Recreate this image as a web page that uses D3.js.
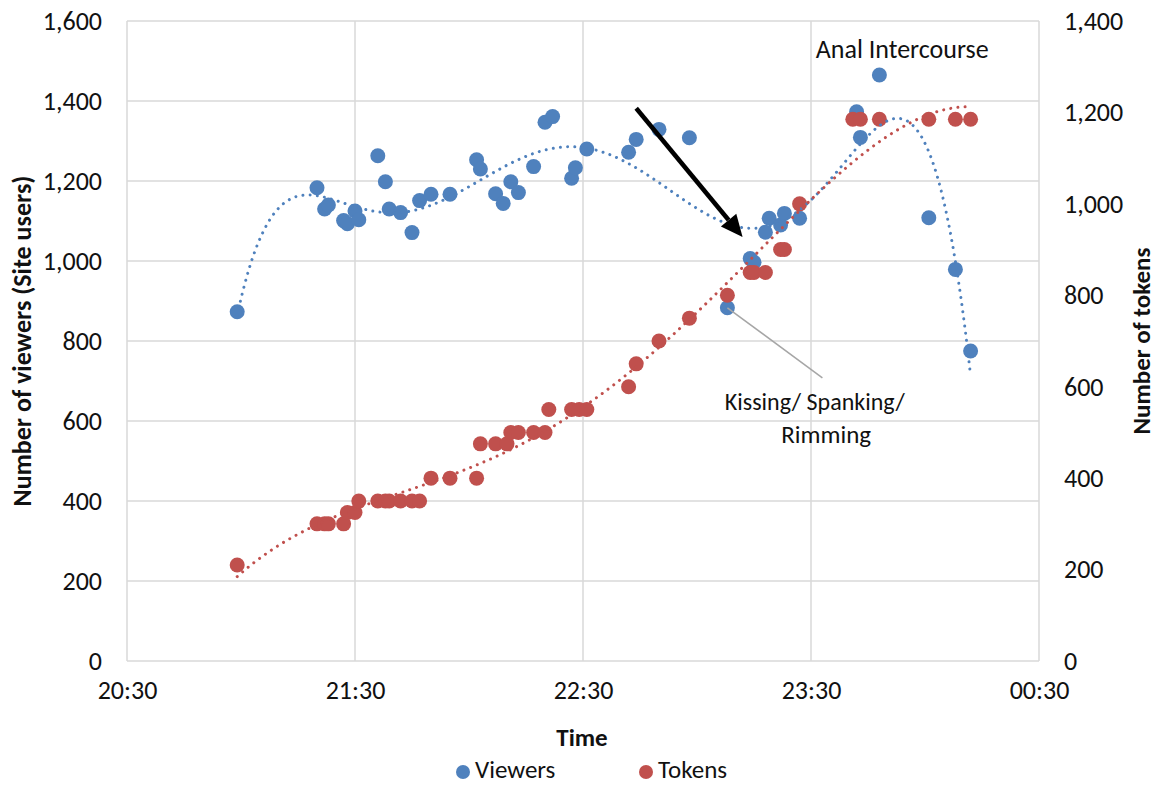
<!DOCTYPE html>
<html>
<head>
<meta charset="utf-8">
<script src="https://cdn.jsdelivr.net/npm/d3@7"></script>
<style>
  html, body { margin: 0; padding: 0; background: #fff; }
  svg { display: block; }
  text { font-family: Carlito, Calibri, Lato, "Open Sans", sans-serif; fill: #111; }
</style>
</head>
<body>
<script>
// ---------------- DATA ----------------
const xTickLabels = ["20:30", "21:30", "22:30", "23:30", "00:30"];
const leftTicks = [0, 200, 400, 600, 800, 1000, 1200, 1400, 1600];
const rightTicks = [0, 200, 400, 600, 800, 1000, 1200, 1400];

const viewerTimes = ["20:59","21:20","21:22","21:23","21:27","21:28","21:30","21:31","21:36","21:38",
  "21:39","21:42","21:45","21:47","21:50","21:55","22:02","22:03","22:07","22:09",
  "22:11","22:13","22:17","22:20","22:22","22:27","22:28","22:31","22:42","22:44",
  "22:50","22:58","23:08","23:14","23:15","23:18","23:19","23:22","23:23","23:27",
  "23:42","23:43","23:48","00:01","00:08","00:12"];
const viewerValues = [873,1183,1130,1140,1101,1093,1125,1103,1263,1198,
  1130,1121,1071,1151,1167,1167,1253,1230,1168,1144,
  1198,1171,1236,1347,1361,1207,1233,1280,1272,1304,
  1329,1308,883,1006,997,1072,1107,1090,1119,1107,
  1373,1309,1465,1108,979,775];

const tokenTimes = ["20:59","21:20","21:22","21:23","21:27","21:28","21:30","21:31","21:36","21:38",
  "21:39","21:42","21:45","21:47","21:50","21:55","22:02","22:03","22:07","22:10",
  "22:11","22:13","22:17","22:20","22:21","22:27","22:29","22:31","22:42","22:44",
  "22:50","22:58","23:08","23:14","23:15","23:18","23:22","23:23","23:27","23:41",
  "23:43","23:48","00:01","00:08","00:12"];
const tokenValues = [210,300,300,300,300,325,325,350,350,350,
  350,350,350,350,400,400,400,475,475,475,
  500,500,500,500,550,550,550,550,600,650,
  700,750,800,850,850,850,900,900,1000,1185,
  1185,1185,1185,1185,1185];

const seriesNames = ["Viewers", "Tokens"];
const seriesColors = ["#4F81BD", "#C0504D"];

// annotations in data units: [time, value]
const arrowFrom = ["22:44", 1382];
const arrowTo = ["23:12", 1060];
const leaderFrom = ["23:08", 883];
const leaderTo = ["23:33", 708];
const labelAnal = {time: "23:54", value: 1507, text: "Anal Intercourse", size: 26};
const labelKiss1 = {time: "23:31", value: 628, text: "Kissing/ Spanking/", size: 24};
const labelKiss2 = {time: "23:34", value: 545, text: "Rimming", size: 25};

// ---------------- HELPERS ----------------
function parseT(s) {
  const [h, m] = s.split(":").map(Number);
  const day = h < 12 ? 2 : 1;
  return new Date(2000, 0, day, h, m);
}

function polyfit(xs, ys, order) {
  const n = order + 1;
  const A = Array.from({length: n}, () => new Array(n).fill(0));
  const b = new Array(n).fill(0);
  for (let k = 0; k < xs.length; k++) {
    const p = [];
    for (let i = 0; i < n; i++) p.push(Math.pow(xs[k], i));
    for (let i = 0; i < n; i++) {
      b[i] += p[i] * ys[k];
      for (let j = 0; j < n; j++) A[i][j] += p[i] * p[j];
    }
  }
  for (let c = 0; c < n; c++) {
    let piv = c;
    for (let r = c + 1; r < n; r++) if (Math.abs(A[r][c]) > Math.abs(A[piv][c])) piv = r;
    [A[c], A[piv]] = [A[piv], A[c]]; [b[c], b[piv]] = [b[piv], b[c]];
    for (let r = c + 1; r < n; r++) {
      const f = A[r][c] / A[c][c];
      for (let j = c; j < n; j++) A[r][j] -= f * A[c][j];
      b[r] -= f * b[c];
    }
  }
  const coef = new Array(n).fill(0);
  for (let i = n - 1; i >= 0; i--) {
    let s = b[i];
    for (let j = i + 1; j < n; j++) s -= A[i][j] * coef[j];
    coef[i] = s / A[i][i];
  }
  return coef;
}

function trend(times, values, order) {
  const ms = times.map(t => +t);
  const mean = d3.mean(ms), sd = d3.deviation(ms);
  const u = ms.map(v => (v - mean) / sd);
  const c = polyfit(u, values, order);
  const lo = d3.min(ms), hi = d3.max(ms);
  const pts = [];
  for (let i = 0; i <= 300; i++) {
    const m = lo + (hi - lo) * i / 300;
    const uu = (m - mean) / sd;
    let v = 0;
    for (let k = c.length - 1; k >= 0; k--) v = v * uu + c[k];
    pts.push([new Date(m), v]);
  }
  return pts;
}

// ---------------- CHART ----------------
const W = 1157, H = 785;
const L = 127, R = 1039, T = 21, B = 661;
const FONT = "Carlito, Calibri, Lato, 'Open Sans', sans-serif";

const svg = d3.select("body").append("svg").attr("width", W).attr("height", H);

const x = d3.scaleTime().domain([parseT("20:30"), parseT("00:30")]).range([L, R]);
const yL = d3.scaleLinear().domain([0, 1600]).range([B, T]);
const yR = d3.scaleLinear().domain([0, 1400]).range([B, T]);
const fmt = d3.format(",");

const grid = "#D9D9D9";
svg.append("g").selectAll("line").data(leftTicks).join("line")
  .attr("x1", L).attr("x2", R).attr("y1", d => yL(d)).attr("y2", d => yL(d))
  .attr("stroke", grid).attr("stroke-width", 1.5);
svg.append("g").selectAll("line").data(xTickLabels).join("line")
  .attr("x1", d => x(parseT(d))).attr("x2", d => x(parseT(d)))
  .attr("y1", T).attr("y2", B)
  .attr("stroke", grid).attr("stroke-width", 1.5);

const axL = svg.append("g").attr("transform", `translate(${L},0)`)
  .call(d3.axisLeft(yL).tickValues(leftTicks).tickFormat(fmt).tickSize(0).tickPadding(25));
const axR = svg.append("g").attr("transform", `translate(${R},0)`)
  .call(d3.axisRight(yR).tickValues(rightTicks).tickFormat(fmt).tickSize(0).tickPadding(25));
const axB = svg.append("g").attr("transform", `translate(0,${B})`)
  .call(d3.axisBottom(x).tickValues(xTickLabels.map(parseT)).tickFormat((d, i) => xTickLabels[i]).tickSize(0).tickPadding(20));
[axL, axR, axB].forEach(a => {
  a.select(".domain").remove();
  a.selectAll("text").attr("font-size", 26).attr("fill", "#111").attr("font-family", FONT);
});

const vData = viewerTimes.map((t, i) => [parseT(t), viewerValues[i]]);
const tData = tokenTimes.map((t, i) => [parseT(t), tokenValues[i]]);

svg.append("g").selectAll("circle").data(vData).join("circle")
  .attr("cx", d => x(d[0])).attr("cy", d => yL(d[1])).attr("r", 7.5)
  .attr("fill", seriesColors[0]);
svg.append("g").selectAll("circle").data(tData).join("circle")
  .attr("cx", d => x(d[0])).attr("cy", d => yR(d[1])).attr("r", 7.5)
  .attr("fill", seriesColors[1]);

const vTrend = trend(vData.map(d => d[0]), viewerValues, 6);
const tTrend = trend(tData.map(d => d[0]), tokenValues, 4);
svg.append("path").datum(vTrend)
  .attr("d", d3.line().x(d => x(d[0])).y(d => yL(d[1])))
  .attr("fill", "none").attr("stroke", seriesColors[0]).attr("stroke-width", 3)
  .attr("stroke-linecap", "round").attr("stroke-dasharray", "0.01 7.2");
svg.append("path").datum(tTrend)
  .attr("d", d3.line().x(d => x(d[0])).y(d => yR(d[1])))
  .attr("fill", "none").attr("stroke", seriesColors[1]).attr("stroke-width", 3)
  .attr("stroke-linecap", "round").attr("stroke-dasharray", "0.01 7.2");

svg.append("line")
  .attr("x1", x(parseT(leaderFrom[0]))).attr("y1", yL(leaderFrom[1]))
  .attr("x2", x(parseT(leaderTo[0]))).attr("y2", yL(leaderTo[1]))
  .attr("stroke", "#A6A6A6").attr("stroke-width", 1.5);

const ax1 = x(parseT(arrowFrom[0])), ay1 = yL(arrowFrom[1]);
const ax2 = x(parseT(arrowTo[0])), ay2 = yL(arrowTo[1]);
const ang = Math.atan2(ay2 - ay1, ax2 - ax1);
const headLen = 22, headW = 10;
const bx = ax2 - headLen * Math.cos(ang), by = ay2 - headLen * Math.sin(ang);
svg.append("line").attr("x1", ax1).attr("y1", ay1).attr("x2", bx).attr("y2", by)
  .attr("stroke", "#000").attr("stroke-width", 4.5);
svg.append("path")
  .attr("d", `M${ax2},${ay2} L${bx + headW * Math.sin(ang)},${by - headW * Math.cos(ang)} L${bx - headW * Math.sin(ang)},${by + headW * Math.cos(ang)} Z`)
  .attr("fill", "#000");

[labelAnal, labelKiss1, labelKiss2].forEach(l => {
  svg.append("text").attr("x", x(parseT(l.time))).attr("y", yL(l.value))
    .attr("text-anchor", "middle").attr("font-size", l.size).text(l.text);
});

svg.append("text").attr("transform", `translate(31,${(T + B) / 2}) rotate(-90)`)
  .attr("text-anchor", "middle").attr("font-size", 26).attr("font-weight", "bold")
  .text("Number of viewers (Site users)");
svg.append("text").attr("transform", `translate(1150,${(T + B) / 2}) rotate(-90)`)
  .attr("text-anchor", "middle").attr("font-size", 25).attr("font-weight", "bold")
  .text("Number of tokens");
svg.append("text").attr("x", (L + R) / 2 - 1).attr("y", 746)
  .attr("text-anchor", "middle").attr("font-size", 25).attr("font-weight", "bold")
  .text("Time");

const legX = [463, 646];
seriesNames.forEach((n, i) => {
  svg.append("circle").attr("cx", legX[i]).attr("cy", 772).attr("r", 7).attr("fill", seriesColors[i]);
  svg.append("text").attr("x", legX[i] + 12).attr("y", 778).attr("font-size", 25).text(n);
});
</script>
</body>
</html>
